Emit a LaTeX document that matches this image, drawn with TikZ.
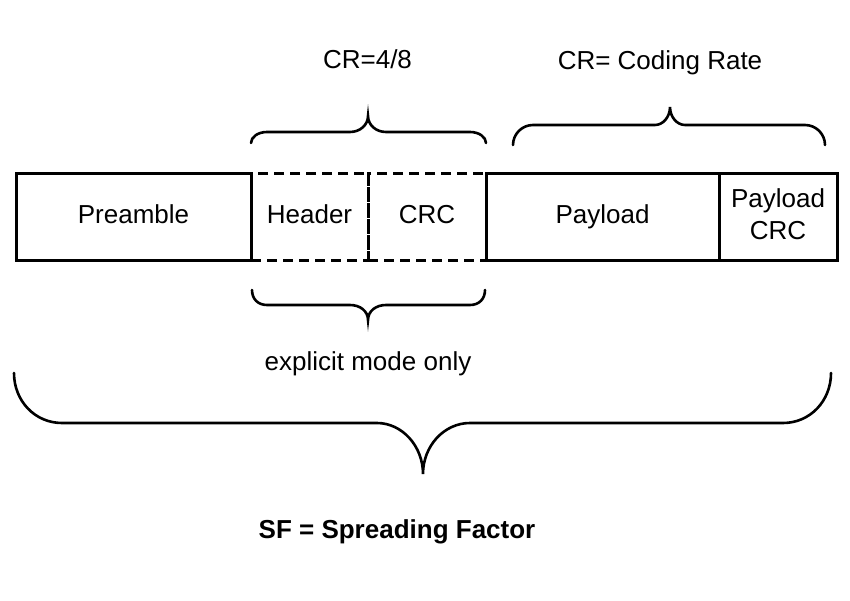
\documentclass[tikz,border=0pt]{standalone}
\usepackage{fontspec}
\setmainfont{Liberation Sans}
\usetikzlibrary{positioning}

\begin{document}
\begin{tikzpicture}[x=1pt,y=-1pt,
  txt/.style={font=\fontsize{26}{32}\selectfont,text height=18.6pt,text depth=6pt},
  field/.style={draw,line width=3pt,minimum width=#1,minimum height=87pt,
    outer sep=0pt,inner sep=0pt,txt,align=center},
  dashfield/.style={field=#1,dash pattern=on 10pt off 6pt},
  brace/.style={line width=2.6pt,line cap=round}]
\useasboundingbox (0,0) rectangle (850,601);

\node[field=235pt] (pre) at (133.5,217.5) {Preamble};
\node[field=233pt, right=118pt+117pt of pre] (pay) {Payload};
\node[dashfield=117pt, right=0pt of pre] (hdr) {Header};
\node[dashfield=118pt, right=0pt of hdr] (crc) {CRC};
\draw[line width=3pt] (pay.north west) -- (pay.south west);
\node[field=118pt, right=0pt of pay, text height=49.6pt] (paycrc) {Payload\\CRC};

\node[txt] (lcr) at (367.5,62.5) {CR=4/8};
\node[txt] (lrate) at (660,63.7) {CR= Coding Rate};
\node[txt] (lexp) at (368,363.7) {explicit mode only};
\node[txt,font=\fontsize{26}{32}\selectfont\bfseries] (lsf) at (397,531.7) {SF = Spreading Factor};

% braces
\draw[brace] (251,143) .. controls (251,137) and (258,132) .. (267,132) -- (350,132)
  .. controls (360,132) and (368,125) .. (368,116)
  .. controls (368,125) and (376,132) .. (386,132) -- (470,132)
  .. controls (479,132) and (486,137) .. (486,143);

\draw[brace] (513,145) .. controls (513,134) and (522,125) .. (533,125) -- (655,125)
  .. controls (663,125) and (670,117) .. (670,107)
  .. controls (670,117) and (677,125) .. (685,125) -- (805,125)
  .. controls (816,125) and (825,134) .. (825,145);

\draw[brace] (252,290) .. controls (252,299) and (258,305) .. (267,305) -- (350,305)
  .. controls (360,305) and (368,311) .. (368,320)
  .. controls (368,311) and (376,305) .. (386,305) -- (470,305)
  .. controls (479,305) and (485,299) .. (485,290);

\draw[brace] (14,373) .. controls (14,401) and (35,423) .. (62,423) -- (377,423)
  .. controls (402,423) and (423,446) .. (423,474)
  .. controls (423,446) and (444,423) .. (470,423) -- (783,423)
  .. controls (810,423) and (831,401) .. (831,373);

\end{tikzpicture}
\end{document}
